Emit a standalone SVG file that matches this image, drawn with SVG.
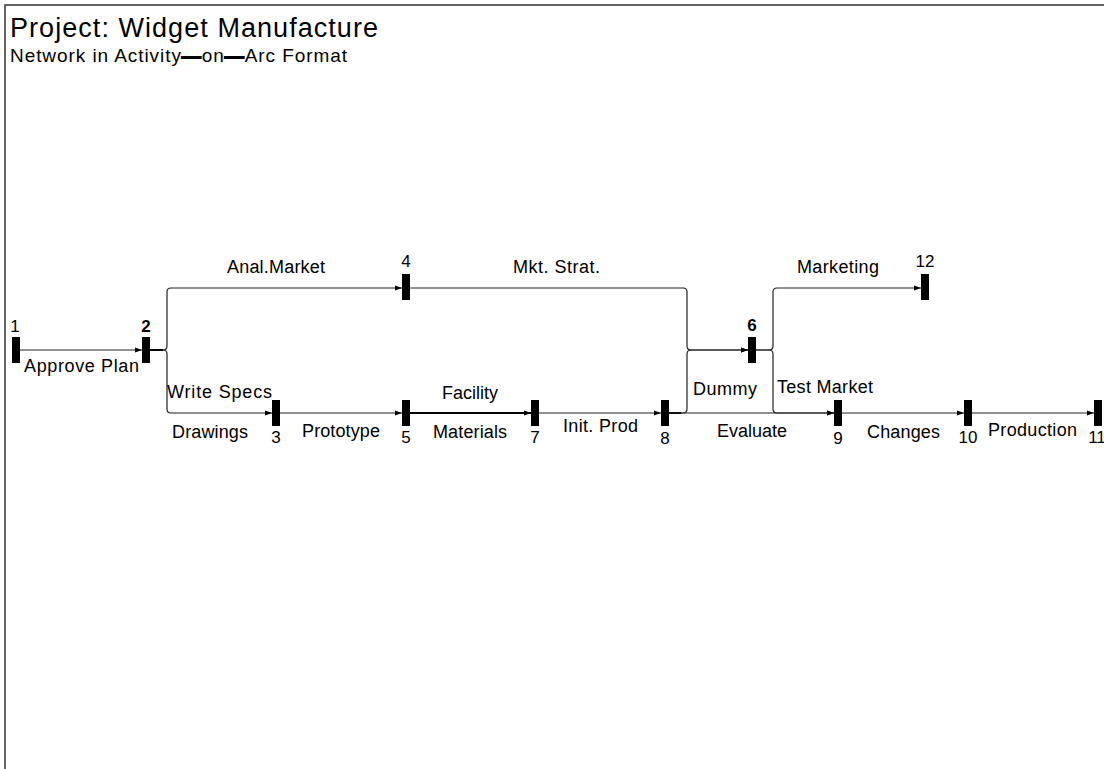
<svg xmlns="http://www.w3.org/2000/svg" width="1104" height="769" viewBox="0 0 1104 769">
<style>
text{font-family:"Liberation Sans",Arial,sans-serif;fill:#000}
.t{font-size:27px}
.st{font-size:19px}
.lbl{font-size:18px}
.num{font-size:17px;text-anchor:middle}
.b{font-weight:bold}
.node rect{fill:#000}
.c path{fill:none;stroke:#222;stroke-width:1.2}
.c path.k{stroke:#000;stroke-width:2}
.frame{stroke:#333;stroke-width:1.5;fill:none}
</style>
<defs>
<marker id="ah" markerUnits="userSpaceOnUse" markerWidth="7" markerHeight="6" refX="7" refY="3" orient="auto">
<path d="M0,0.5 L7,3 L0,5.5 z" fill="#000"/>
</marker>
</defs>
<rect width="1104" height="769" fill="#fff"/>
<path class="frame" d="M5,769 V5 H1104"/>
<text class="t" x="10" y="37" textLength="368" lengthAdjust="spacing">Project: Widget Manufacture</text>
<text class="st" x="10" y="62" textLength="337" lengthAdjust="spacing">Network in Activity<tspan stroke="#000" stroke-width="1.8">—</tspan>on<tspan stroke="#000" stroke-width="1.8">—</tspan>Arc Format</text>
<g class="c" id="connectors">
<path d="M20,350 H142" marker-end="url(#ah)"/>
<path d="M150,350 H163 Q167,350 167,346 V292 Q167,288 171,288 H402" marker-end="url(#ah)"/>
<path d="M150,350 H163 Q167,350 167,354 V409 Q167,413 171,413 H272" marker-end="url(#ah)"/>
<path class="k" d="M150,350 H163"/>
<path d="M280,413 H402" marker-end="url(#ah)"/>
<path class="k" d="M410,413 H531" marker-end="url(#ah)"/>
<path d="M539,413 H661" marker-end="url(#ah)"/>
<path d="M410,288 H683 Q687,288 687,292 V346 Q687,350 691,350 H748" marker-end="url(#ah)"/>
<path d="M669,413 H683 Q687,413 687,409 V354 Q687,350 691,350 H748" marker-end="url(#ah)"/>
<path class="k" d="M669,413 H681"/>
<path d="M669,413 H834" marker-end="url(#ah)"/>
<path d="M756,350 H769 Q773,350 773,346 V292 Q773,288 777,288 H921" marker-end="url(#ah)"/>
<path d="M756,350 H769 Q773,350 773,354 V409 Q773,413 777,413 H834" marker-end="url(#ah)"/>
<path d="M842,413 H964" marker-end="url(#ah)"/>
<path d="M972,413 H1094" marker-end="url(#ah)"/>
</g>
<g class="labels">
<text class="lbl" x="24" y="372" textLength="115" lengthAdjust="spacing">Approve Plan</text>
<text class="lbl" x="227" y="273" textLength="98" lengthAdjust="spacing">Anal.Market</text>
<text class="lbl" x="513" y="273" textLength="87" lengthAdjust="spacing">Mkt. Strat.</text>
<text class="lbl" x="797" y="273" textLength="82" lengthAdjust="spacing">Marketing</text>
<text class="lbl" x="167" y="398" textLength="105" lengthAdjust="spacing">Write Specs</text>
<text class="lbl" x="172" y="438" textLength="76" lengthAdjust="spacing">Drawings</text>
<text class="lbl" x="302" y="437" textLength="78" lengthAdjust="spacing">Prototype</text>
<text class="lbl" x="442" y="399" textLength="56" lengthAdjust="spacing">Facility</text>
<text class="lbl" x="433" y="438" textLength="74" lengthAdjust="spacing">Materials</text>
<text class="lbl" x="563" y="432" textLength="75" lengthAdjust="spacing">Init. Prod</text>
<text class="lbl" x="693" y="395" textLength="64" lengthAdjust="spacing">Dummy</text>
<text class="lbl" x="777" y="393" textLength="96" lengthAdjust="spacing">Test Market</text>
<text class="lbl" x="717" y="437" textLength="70" lengthAdjust="spacing">Evaluate</text>
<text class="lbl" x="867" y="438" textLength="73" lengthAdjust="spacing">Changes</text>
<text class="lbl" x="988" y="436" textLength="89" lengthAdjust="spacing">Production</text>
</g>
<g class="node" id="n1"><rect x="12" y="337" width="8" height="26"/><text class="num" x="15" y="332">1</text></g>
<g class="node" id="n2"><rect x="142" y="337" width="8" height="26"/><text class="num b" x="146" y="332">2</text></g>
<g class="node" id="n3"><rect x="272" y="400" width="8" height="26"/><text class="num" x="276" y="443">3</text></g>
<g class="node" id="n4"><rect x="402" y="274" width="8" height="26"/><text class="num" x="406" y="267">4</text></g>
<g class="node" id="n5"><rect x="402" y="400" width="8" height="26"/><text class="num" x="406" y="443">5</text></g>
<g class="node" id="n6"><rect x="748" y="337" width="8" height="26"/><text class="num b" x="752" y="331">6</text></g>
<g class="node" id="n7"><rect x="531" y="400" width="8" height="26"/><text class="num" x="535" y="443">7</text></g>
<g class="node" id="n8"><rect x="661" y="400" width="8" height="26"/><text class="num" x="665" y="444">8</text></g>
<g class="node" id="n9"><rect x="834" y="400" width="8" height="26"/><text class="num" x="838" y="444">9</text></g>
<g class="node" id="n10"><rect x="964" y="400" width="8" height="26"/><text class="num" x="968" y="443">10</text></g>
<g class="node" id="n11"><rect x="1094" y="400" width="8" height="26"/><text class="num" x="1097" y="443">11</text></g>
<g class="node" id="n12"><rect x="921" y="274" width="8" height="26"/><text class="num" x="925" y="267">12</text></g>
</svg>
